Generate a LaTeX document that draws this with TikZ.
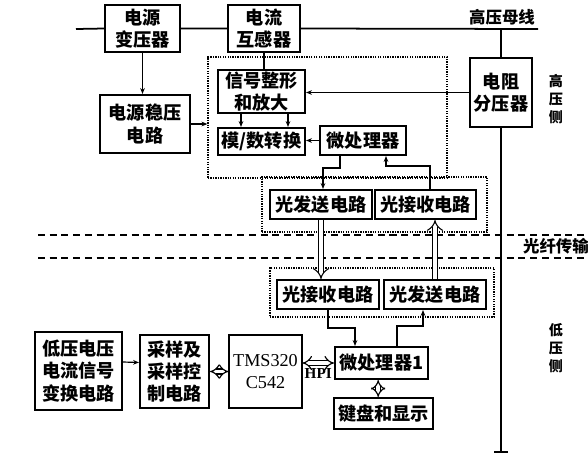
\documentclass[tikz,border=0pt]{standalone}
\usepackage{fontspec}
\setmainfont{Liberation Serif}
\newfontfamily\cjk{Noto Sans CJK SC}
\usetikzlibrary{arrows.meta}

\begin{document}
\begin{tikzpicture}[x=0.03cm, y=-0.03cm,
  blk/.style={draw, line width=1.8pt, align=center, inner sep=1pt,
    font=\cjk\bfseries\fontsize{15.5}{19}\selectfont},
  dotbox/.style={draw, densely dotted, line width=1.1pt, inner sep=0pt},
  wire/.style={line width=1pt},
  arr/.style={wire, -{Stealth[length=5pt,width=4pt]}},
  fibre/.style={double, double distance=4pt, line width=0.9pt, -{Implies}},
  dbl/.style={double, double distance=3.2pt, line width=1pt, {Implies}-{Implies}},
  side/.style={align=center, font=\cjk\bfseries\fontsize{12}{15.5}\selectfont},
  lbl/.style={font=\cjk\bfseries\fontsize{14}{16}\selectfont}]
  \useasboundingbox (0,0) rectangle (588,464);

  % High voltage side
  \node[blk, minimum width=2.25cm, minimum height=1.41cm] (tf) at (142.5,28.5) {电源\\变压器};
  \node[blk, minimum width=2.16cm, minimum height=1.41cm] (ct) at (264,28.5) {电流\\互感器};
  \node[blk, minimum width=2.7cm, minimum height=1.74cm] (reg) at (145,124) {电源稳压\\电路};
  \node[blk, minimum width=1.86cm, minimum height=2.07cm] (div) at (501,92.5) {电阻\\分压器};
  \node[blk, minimum width=2.61cm, minimum height=1.29cm] (amp) at (261.5,91.5) {信号整形\\和放大};
  \node[blk, minimum width=2.61cm, minimum height=0.81cm] (adc) at (261.5,141.5) {模/数转换};
  \node[blk, minimum width=2.58cm, minimum height=0.87cm] (mcu) at (363,140.5) {微处理器};
  \node[blk, minimum width=3.06cm, minimum height=0.87cm] (txa) at (321,204.5) {光发送电路};
  \node[blk, minimum width=3.03cm, minimum height=0.87cm] (rxa) at (425.5,204.5) {光接收电路};
  % Dotted groups
  \node[dotbox, minimum width=7.17cm, minimum height=3.63cm] (hvbox) at (327.5,117.5) {};
  \node[dotbox, minimum width=6.75cm, minimum height=1.65cm] (optA) at (374.5,204.5) {};
  \node[dotbox, minimum width=6.72cm, minimum height=1.47cm] (optB) at (382,292.5) {};

  % Low voltage side
  \node[blk, minimum width=3.06cm, minimum height=0.87cm] (rxb) at (328,294.5) {光接收电路};
  \node[blk, minimum width=3.06cm, minimum height=0.87cm] (txb) at (435,294.5) {光发送电路};
  \node[blk, minimum width=2.79cm, minimum height=0.96cm] (mcu1) at (381.5,363) {微处理器1};
  \node[blk, minimum width=2.97cm, minimum height=0.93cm] (kbd) at (383.5,413.5) {键盘和显示};
  \node[draw, line width=1.4pt, align=center, minimum width=2.07cm, minimum height=2.19cm,
    font=\fontsize{15.5}{19}\selectfont] (dsp) at (265.5,371.5) {TMS320\\C542};
  \node[blk, minimum width=2.07cm, minimum height=2.19cm] (smp) at (174.5,371.5) {采样及\\采样控\\制电路};
  \node[blk, minimum width=2.61cm, minimum height=2.34cm] (lv) at (78.5,371) {低压电压\\电流信号\\变换电路};

  % Bus and labels
  \coordinate (busL) at (76,29);
  \coordinate (busR) at (538,29);
  \coordinate (tap) at (501,29);
  \coordinate (gnd) at (501,452);
  \draw[line width=1.5pt] (busL) -- (tf.west) (tf.east) -- (ct.west) (ct.east) -- (busR);
  \draw[line width=1.3pt] (tap) -- (div.north);
  \draw[line width=1.3pt] (div.south) -- (gnd);
  \draw[line width=1.5pt] ([xshift=-0.21cm]gnd) -- ([xshift=0.21cm]gnd);
  \node[lbl] (buslbl) at (502,17) {高压母线};
  \node[side] (hvlbl) at (556,99) {高\\压\\侧};
  \node[side] (lvlbl) at (556,348) {低\\压\\侧};

  % Fibre link
  \draw[line width=1.3pt, dash pattern=on 6pt off 4pt] (38,235) -- (588,235);
  \draw[line width=1.3pt, dash pattern=on 6pt off 4pt] (38,258) -- (588,258);
  \node[lbl, anchor=west] (fibrelbl) at (519,246) {光纤传输};
  \draw[fibre] (txa.south) -- (txa.south |- rxb.north);
  \draw[fibre] (txb.north) -- (txb.north |- rxa.south);

  % Signal paths, high side
  \draw[arr] (tf.south) -- (tf.south |- reg.north);
  \draw[arr] (reg.east) -- (reg.east -| hvbox.west);
  \draw[wire] (ct.south) -- (ct.south |- amp.north);
  \draw[arr] (div.west) -- (div.west -| amp.east);
  \draw[arr] ([xshift=-0.615cm]amp.south) -- ([xshift=-0.615cm]adc.north);
  \draw[arr] ([xshift=0.795cm]amp.south) -- ([xshift=0.795cm]adc.north);
  \draw[arr] (mcu.west) -- (mcu.west -| adc.east);
  \draw[arr] ([xshift=-0.69cm]mcu.south) -- ++(0,12) -| ([xshift=0.06cm]txa.north);
  \draw[arr] ([xshift=0.135cm]rxa.north) -- ++(0,-23) -| ([xshift=0.69cm]mcu.south);

  % Signal paths, low side
  \draw[arr] (rxb.south) -- ++(0,18) -| ([xshift=-0.795cm]mcu1.north);
  \draw[arr] ([xshift=0.465cm]mcu1.north) -- ++(0,-20) -| ([xshift=-0.36cm]txb.south);
  \draw[dbl] ([xshift=-0.1cm]mcu1.south) -- ([xshift=-0.1cm]mcu1.south |- kbd.north);
  \draw[dbl] (mcu1.west -| dsp.east) -- node[below=1pt, font=\bfseries\fontsize{13}{15}\selectfont] (hpi) {HPI} (mcu1.west);
  \draw[dbl] (smp.east) -- (dsp.west);
  \draw[arr] ([yshift=0.27cm]lv.east) -- ([yshift=0.27cm]smp.west);
\end{tikzpicture}
\end{document}
